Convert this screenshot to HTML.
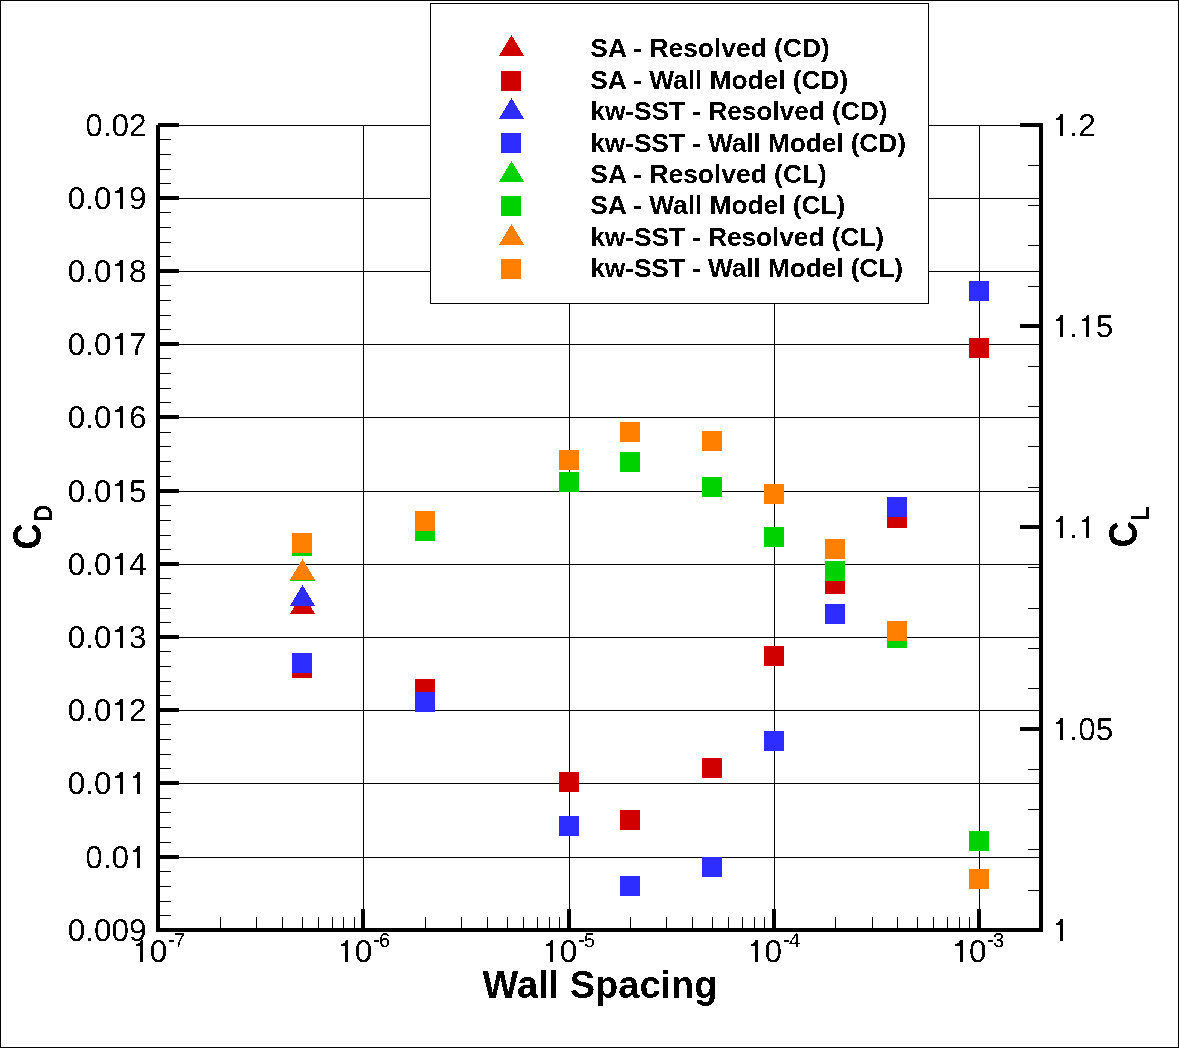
<!DOCTYPE html>
<html><head><meta charset="utf-8"><style>
html,body{margin:0;padding:0;background:#fff;}
body{width:1179px;height:1048px;overflow:hidden;}
svg{display:block;}
text{font-family:"Liberation Sans", sans-serif;}
</style></head><body>
<svg width="1179" height="1048" viewBox="0 0 1179 1048" shape-rendering="crispEdges"><rect x="0" y="0" width="1179" height="1048" fill="#fff"/><defs><filter id="bin" x="0" y="0" width="100%" height="100%" filterUnits="userSpaceOnUse" color-interpolation-filters="sRGB"><feComponentTransfer><feFuncA type="discrete" tableValues="0 1"/></feComponentTransfer></filter></defs><rect x="0.5" y="0.5" width="1178" height="1047" fill="none" stroke="#000" stroke-width="1"/><path d="M158 125.5H1041 M158 198.5H1041 M158 271.5H1041 M158 344.5H1041 M158 417.5H1041 M158 491.5H1041 M158 564.5H1041 M158 637.5H1041 M158 710.5H1041 M158 783.5H1041 M158 857.5H1041 M158 930.5H1041 M363.5 125V930 M569.5 125V930 M774.5 125V930 M979.5 125V930" stroke="#000" stroke-width="1" fill="none"/><g fill="#000"><rect x="158" y="123" width="21" height="4"/><rect x="158" y="139" width="13" height="1"/><rect x="158" y="154" width="13" height="1"/><rect x="158" y="169" width="13" height="1"/><rect x="158" y="183" width="13" height="1"/><rect x="158" y="196" width="21" height="4"/><rect x="158" y="212" width="13" height="1"/><rect x="158" y="227" width="13" height="1"/><rect x="158" y="242" width="13" height="1"/><rect x="158" y="256" width="13" height="1"/><rect x="158" y="269" width="21" height="4"/><rect x="158" y="285" width="13" height="1"/><rect x="158" y="300" width="13" height="1"/><rect x="158" y="315" width="13" height="1"/><rect x="158" y="329" width="13" height="1"/><rect x="158" y="342" width="21" height="4"/><rect x="158" y="358" width="13" height="1"/><rect x="158" y="373" width="13" height="1"/><rect x="158" y="388" width="13" height="1"/><rect x="158" y="402" width="13" height="1"/><rect x="158" y="415" width="21" height="4"/><rect x="158" y="432" width="13" height="1"/><rect x="158" y="446" width="13" height="1"/><rect x="158" y="461" width="13" height="1"/><rect x="158" y="476" width="13" height="1"/><rect x="158" y="489" width="21" height="4"/><rect x="158" y="505" width="13" height="1"/><rect x="158" y="520" width="13" height="1"/><rect x="158" y="535" width="13" height="1"/><rect x="158" y="549" width="13" height="1"/><rect x="158" y="562" width="21" height="4"/><rect x="158" y="578" width="13" height="1"/><rect x="158" y="593" width="13" height="1"/><rect x="158" y="608" width="13" height="1"/><rect x="158" y="622" width="13" height="1"/><rect x="158" y="635" width="21" height="4"/><rect x="158" y="651" width="13" height="1"/><rect x="158" y="666" width="13" height="1"/><rect x="158" y="681" width="13" height="1"/><rect x="158" y="695" width="13" height="1"/><rect x="158" y="708" width="21" height="4"/><rect x="158" y="724" width="13" height="1"/><rect x="158" y="739" width="13" height="1"/><rect x="158" y="754" width="13" height="1"/><rect x="158" y="768" width="13" height="1"/><rect x="158" y="781" width="21" height="4"/><rect x="158" y="798" width="13" height="1"/><rect x="158" y="812" width="13" height="1"/><rect x="158" y="827" width="13" height="1"/><rect x="158" y="842" width="13" height="1"/><rect x="158" y="855" width="21" height="4"/><rect x="158" y="871" width="13" height="1"/><rect x="158" y="886" width="13" height="1"/><rect x="158" y="901" width="13" height="1"/><rect x="158" y="915" width="13" height="1"/><rect x="158" y="928" width="21" height="4"/><rect x="1020" y="123" width="21" height="4"/><rect x="1028" y="165" width="13" height="1"/><rect x="1028" y="205" width="13" height="1"/><rect x="1028" y="245" width="13" height="1"/><rect x="1028" y="286" width="13" height="1"/><rect x="1020" y="324" width="21" height="4"/><rect x="1028" y="366" width="13" height="1"/><rect x="1028" y="406" width="13" height="1"/><rect x="1028" y="446" width="13" height="1"/><rect x="1028" y="487" width="13" height="1"/><rect x="1020" y="525" width="21" height="4"/><rect x="1028" y="567" width="13" height="1"/><rect x="1028" y="608" width="13" height="1"/><rect x="1028" y="648" width="13" height="1"/><rect x="1028" y="688" width="13" height="1"/><rect x="1020" y="727" width="21" height="4"/><rect x="1028" y="769" width="13" height="1"/><rect x="1028" y="809" width="13" height="1"/><rect x="1028" y="849" width="13" height="1"/><rect x="1028" y="890" width="13" height="1"/><rect x="1020" y="928" width="21" height="4"/><rect x="361" y="909" width="4" height="21"/><rect x="567" y="909" width="4" height="21"/><rect x="772" y="909" width="4" height="21"/><rect x="977" y="909" width="4" height="21"/><rect x="220" y="917" width="1" height="13"/><rect x="256" y="917" width="1" height="13"/><rect x="282" y="917" width="1" height="13"/><rect x="302" y="917" width="1" height="13"/><rect x="318" y="917" width="1" height="13"/><rect x="332" y="917" width="1" height="13"/><rect x="343" y="917" width="1" height="13"/><rect x="354" y="917" width="1" height="13"/><rect x="425" y="917" width="1" height="13"/><rect x="461" y="917" width="1" height="13"/><rect x="487" y="917" width="1" height="13"/><rect x="507" y="917" width="1" height="13"/><rect x="523" y="917" width="1" height="13"/><rect x="537" y="917" width="1" height="13"/><rect x="549" y="917" width="1" height="13"/><rect x="559" y="917" width="1" height="13"/><rect x="630" y="917" width="1" height="13"/><rect x="666" y="917" width="1" height="13"/><rect x="692" y="917" width="1" height="13"/><rect x="712" y="917" width="1" height="13"/><rect x="728" y="917" width="1" height="13"/><rect x="742" y="917" width="1" height="13"/><rect x="754" y="917" width="1" height="13"/><rect x="764" y="917" width="1" height="13"/><rect x="835" y="917" width="1" height="13"/><rect x="872" y="917" width="1" height="13"/><rect x="897" y="917" width="1" height="13"/><rect x="917" y="917" width="1" height="13"/><rect x="933" y="917" width="1" height="13"/><rect x="947" y="917" width="1" height="13"/><rect x="959" y="917" width="1" height="13"/><rect x="969" y="917" width="1" height="13"/><rect x="156" y="125" width="4" height="806"/><rect x="156" y="928" width="887" height="4"/><rect x="1039" y="123" width="4" height="809"/></g><g font-family="Liberation Sans, sans-serif" fill="#000" text-rendering="geometricPrecision" filter="url(#bin)"><text x="85.19" y="136.00" font-size="31.5">0.02</text><text x="67.67" y="209.00" font-size="31.5">0.0 9</text><polygon points="122.64,187.01 122.64,209.00 119.55,209.00 119.55,193.00 115.24,193.00 115.24,191.01 117.13,190.73 118.77,189.47 119.96,187.01"/><text x="67.67" y="282.00" font-size="31.5">0.0 8</text><polygon points="122.64,260.01 122.64,282.00 119.55,282.00 119.55,266.00 115.24,266.00 115.24,264.01 117.13,263.73 118.77,262.47 119.96,260.01"/><text x="67.67" y="355.00" font-size="31.5">0.0 7</text><polygon points="122.64,333.01 122.64,355.00 119.55,355.00 119.55,339.00 115.24,339.00 115.24,337.01 117.13,336.73 118.77,335.47 119.96,333.01"/><text x="67.67" y="428.00" font-size="31.5">0.0 6</text><polygon points="122.64,406.01 122.64,428.00 119.55,428.00 119.55,412.00 115.24,412.00 115.24,410.01 117.13,409.73 118.77,408.47 119.96,406.01"/><text x="67.67" y="502.00" font-size="31.5">0.0 5</text><polygon points="122.64,480.01 122.64,502.00 119.55,502.00 119.55,486.00 115.24,486.00 115.24,484.01 117.13,483.73 118.77,482.47 119.96,480.01"/><text x="67.67" y="575.00" font-size="31.5">0.0 4</text><polygon points="122.64,553.01 122.64,575.00 119.55,575.00 119.55,559.00 115.24,559.00 115.24,557.01 117.13,556.73 118.77,555.47 119.96,553.01"/><text x="67.67" y="648.00" font-size="31.5">0.0 3</text><polygon points="122.64,626.01 122.64,648.00 119.55,648.00 119.55,632.00 115.24,632.00 115.24,630.01 117.13,629.73 118.77,628.47 119.96,626.01"/><text x="67.67" y="721.00" font-size="31.5">0.0 2</text><polygon points="122.64,699.01 122.64,721.00 119.55,721.00 119.55,705.00 115.24,705.00 115.24,703.01 117.13,702.73 118.77,701.47 119.96,699.01"/><text x="67.67" y="794.00" font-size="31.5">0.0  </text><polygon points="122.64,772.01 122.64,794.00 119.55,794.00 119.55,778.00 115.24,778.00 115.24,776.01 117.13,775.73 118.77,774.47 119.96,772.01"/><polygon points="140.16,772.01 140.16,794.00 137.08,794.00 137.08,778.00 132.76,778.00 132.76,776.01 134.65,775.73 136.29,774.47 137.48,772.01"/><text x="85.19" y="868.00" font-size="31.5">0.0 </text><polygon points="140.16,846.01 140.16,868.00 137.08,868.00 137.08,852.00 132.76,852.00 132.76,850.01 134.65,849.73 136.29,848.47 137.48,846.01"/><text x="67.67" y="941.00" font-size="31.5">0.009</text><text x="1052.00" y="136.00" font-size="31.5"> .2</text><polygon points="1063.18,114.01 1063.18,136.00 1060.10,136.00 1060.10,120.00 1055.78,120.00 1055.78,118.01 1057.67,117.73 1059.31,116.47 1060.51,114.01"/><text x="1052.00" y="337.00" font-size="31.5"> . 5</text><polygon points="1063.18,315.01 1063.18,337.00 1060.10,337.00 1060.10,321.00 1055.78,321.00 1055.78,319.01 1057.67,318.73 1059.31,317.47 1060.51,315.01"/><polygon points="1089.45,315.01 1089.45,337.00 1086.37,337.00 1086.37,321.00 1082.05,321.00 1082.05,319.01 1083.94,318.73 1085.58,317.47 1086.78,315.01"/><text x="1052.00" y="538.00" font-size="31.5"> . </text><polygon points="1063.18,516.01 1063.18,538.00 1060.10,538.00 1060.10,522.00 1055.78,522.00 1055.78,520.01 1057.67,519.73 1059.31,518.47 1060.51,516.01"/><polygon points="1089.45,516.01 1089.45,538.00 1086.37,538.00 1086.37,522.00 1082.05,522.00 1082.05,520.01 1083.94,519.73 1085.58,518.47 1086.78,516.01"/><text x="1052.00" y="740.00" font-size="31.5"> .05</text><polygon points="1063.18,718.01 1063.18,740.00 1060.10,740.00 1060.10,724.00 1055.78,724.00 1055.78,722.01 1057.67,721.73 1059.31,720.47 1060.51,718.01"/><text x="1052.00" y="941.00" font-size="31.5"> </text><polygon points="1063.18,919.01 1063.18,941.00 1060.10,941.00 1060.10,925.00 1055.78,925.00 1055.78,923.01 1057.67,922.73 1059.31,921.47 1060.51,919.01"/><text x="132.30" y="962.00" font-size="31.5"> 0</text><polygon points="143.48,940.01 143.48,962.00 140.40,962.00 140.40,946.00 136.08,946.00 136.08,944.01 137.97,943.73 139.61,942.47 140.81,940.01"/><rect x="169" y="940" width="5" height="2"/><text x="174.00" y="947" font-size="20">7</text><text x="337.30" y="962.00" font-size="31.5"> 0</text><polygon points="348.48,940.01 348.48,962.00 345.40,962.00 345.40,946.00 341.08,946.00 341.08,944.01 342.97,943.73 344.61,942.47 345.81,940.01"/><rect x="374" y="940" width="5" height="2"/><text x="379.00" y="947" font-size="20">6</text><text x="542.30" y="962.00" font-size="31.5"> 0</text><polygon points="553.48,940.01 553.48,962.00 550.40,962.00 550.40,946.00 546.08,946.00 546.08,944.01 547.97,943.73 549.61,942.47 550.80,940.01"/><rect x="579" y="940" width="5" height="2"/><text x="584.00" y="947" font-size="20">5</text><text x="747.00" y="962.00" font-size="31.5"> 0</text><polygon points="758.18,940.01 758.18,962.00 755.10,962.00 755.10,946.00 750.78,946.00 750.78,944.01 752.67,943.73 754.31,942.47 755.50,940.01"/><rect x="784" y="940" width="5" height="2"/><text x="789.00" y="947" font-size="20">4</text><text x="951.40" y="962.00" font-size="31.5"> 0</text><polygon points="962.58,940.01 962.58,962.00 959.50,962.00 959.50,946.00 955.18,946.00 955.18,944.01 957.07,943.73 958.71,942.47 959.90,940.01"/><rect x="988" y="940" width="5" height="2"/><text x="993.00" y="947" font-size="20">3</text></g><g filter="url(#bin)"><text x="600" y="998" text-anchor="middle" font-family="Liberation Sans, sans-serif" font-weight="bold" font-size="38">Wall Spacing</text><g transform="translate(41.6,549.5) rotate(-90) scale(0.96,1.07)"><text x="0" y="0" font-family="Liberation Sans, sans-serif" font-weight="bold" font-size="38">C<tspan font-size="24" dx="1.7" dy="10.3">D</tspan></text></g><g transform="translate(1137.4,547.5) rotate(-90) scale(0.96,1.07)"><text x="0" y="0" font-family="Liberation Sans, sans-serif" font-weight="bold" font-size="38">C<tspan font-size="24" dx="0.65" dy="11">L</tspan></text></g></g><g shape-rendering="auto"><path d="M290 614L302.5 593L315 614Z" fill="#d00000" shape-rendering="crispEdges"/><rect x="292" y="658" width="20" height="20" fill="#d00000"/><rect x="415" y="679" width="20" height="20" fill="#d00000"/><rect x="559" y="772" width="20" height="20" fill="#d00000"/><rect x="620" y="810" width="20" height="20" fill="#d00000"/><rect x="702" y="758" width="20" height="20" fill="#d00000"/><rect x="764" y="646" width="20" height="20" fill="#d00000"/><rect x="825" y="574" width="20" height="20" fill="#d00000"/><rect x="887" y="508" width="20" height="20" fill="#d00000"/><rect x="969" y="338" width="20" height="20" fill="#d00000"/><path d="M290 606L302.5 585L315 606Z" fill="#2d2dff" shape-rendering="crispEdges"/><rect x="292" y="653" width="20" height="20" fill="#2d2dff"/><rect x="415" y="692" width="20" height="20" fill="#2d2dff"/><rect x="559" y="816" width="20" height="20" fill="#2d2dff"/><rect x="620" y="876" width="20" height="20" fill="#2d2dff"/><rect x="702" y="857" width="20" height="20" fill="#2d2dff"/><rect x="764" y="731" width="20" height="20" fill="#2d2dff"/><rect x="825" y="604" width="20" height="20" fill="#2d2dff"/><rect x="887" y="497" width="20" height="20" fill="#2d2dff"/><rect x="969" y="281" width="20" height="20" fill="#2d2dff"/><path d="M290 581L302.5 560L315 581Z" fill="#00d200" shape-rendering="crispEdges"/><rect x="292" y="536" width="20" height="20" fill="#00d200"/><rect x="415" y="521" width="20" height="20" fill="#00d200"/><rect x="559" y="472" width="20" height="20" fill="#00d200"/><rect x="620" y="452" width="20" height="20" fill="#00d200"/><rect x="702" y="477" width="20" height="20" fill="#00d200"/><rect x="764" y="527" width="20" height="20" fill="#00d200"/><rect x="825" y="561" width="20" height="20" fill="#00d200"/><rect x="887" y="628" width="20" height="20" fill="#00d200"/><rect x="969" y="831" width="20" height="20" fill="#00d200"/><path d="M290 580L302.5 559L315 580Z" fill="#ff8000" shape-rendering="crispEdges"/><rect x="292" y="533" width="20" height="20" fill="#ff8000"/><rect x="415" y="511" width="20" height="20" fill="#ff8000"/><rect x="559" y="450" width="20" height="20" fill="#ff8000"/><rect x="620" y="422" width="20" height="20" fill="#ff8000"/><rect x="702" y="431" width="20" height="20" fill="#ff8000"/><rect x="764" y="484" width="20" height="20" fill="#ff8000"/><rect x="825" y="539" width="20" height="20" fill="#ff8000"/><rect x="887" y="621" width="20" height="20" fill="#ff8000"/><rect x="969" y="869" width="20" height="20" fill="#ff8000"/></g><g shape-rendering="auto"><rect x="430.5" y="3.5" width="498" height="300" fill="#fff" stroke="#000" stroke-width="1"/><path d="M499 56L511.5 35L524 56Z" fill="#d00000" shape-rendering="crispEdges"/><rect x="501" y="71" width="20" height="20" fill="#d00000"/><path d="M499 119L511.5 98L524 119Z" fill="#2d2dff" shape-rendering="crispEdges"/><rect x="501" y="133" width="20" height="20" fill="#2d2dff"/><path d="M499 182L511.5 161L524 182Z" fill="#00d200" shape-rendering="crispEdges"/><rect x="501" y="196" width="20" height="20" fill="#00d200"/><path d="M499 245L511.5 224L524 245Z" fill="#ff8000" shape-rendering="crispEdges"/><rect x="501" y="259" width="20" height="20" fill="#ff8000"/></g><g filter="url(#bin)"><text x="590.3" y="57.30" font-family="Liberation Sans, sans-serif" font-weight="bold" font-size="26.4" textLength="239.50" lengthAdjust="spacing">SA - Resolved (CD)</text><text x="590.3" y="88.73" font-family="Liberation Sans, sans-serif" font-weight="bold" font-size="26.4" textLength="258.00" lengthAdjust="spacing">SA - Wall Model (CD)</text><text x="590.3" y="120.16" font-family="Liberation Sans, sans-serif" font-weight="bold" font-size="26.4" textLength="297.14" lengthAdjust="spacing">kw-SST - Resolved (CD)</text><text x="590.3" y="151.59" font-family="Liberation Sans, sans-serif" font-weight="bold" font-size="26.4" textLength="315.64" lengthAdjust="spacing">kw-SST - Wall Model (CD)</text><text x="590.3" y="183.02" font-family="Liberation Sans, sans-serif" font-weight="bold" font-size="26.4" textLength="236.56" lengthAdjust="spacing">SA - Resolved (CL)</text><text x="590.3" y="214.45" font-family="Liberation Sans, sans-serif" font-weight="bold" font-size="26.4" textLength="255.06" lengthAdjust="spacing">SA - Wall Model (CL)</text><text x="590.3" y="245.88" font-family="Liberation Sans, sans-serif" font-weight="bold" font-size="26.4" textLength="293.70" lengthAdjust="spacing">kw-SST - Resolved (CL)</text><text x="590.3" y="277.31" font-family="Liberation Sans, sans-serif" font-weight="bold" font-size="26.4" textLength="312.70" lengthAdjust="spacing">kw-SST - Wall Model (CL)</text></g></svg>
</body></html>
